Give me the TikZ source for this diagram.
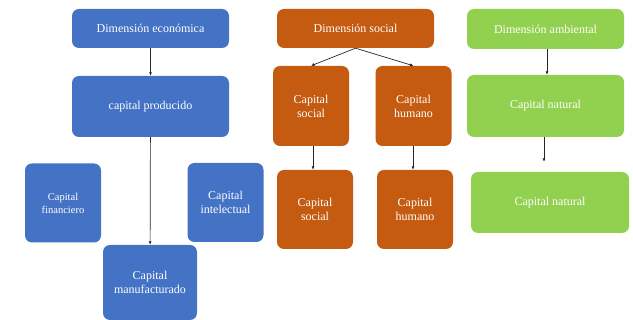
\documentclass[tikz,border=0pt]{standalone}
\usepackage{fontspec}
\setmainfont{Liberation Serif}
\usetikzlibrary{arrows.meta}
\definecolor{azul}{HTML}{4472C4}
\definecolor{naranja}{HTML}{C55A11}
\definecolor{verde}{HTML}{92D050}

\begin{document}
\begin{tikzpicture}[x=1pt,y=-1pt,
      caja/.style={rounded corners=7pt,text=white,align=center,inner sep=0pt,
        font=\fontsize{12}{14}\selectfont},
      eco/.style={caja,fill=azul},
      soc/.style={caja,fill=naranja},
      amb/.style={caja,fill=verde},
      ancha/.style={minimum width=157pt,minimum height=#1},
      chica/.style={minimum width=76pt,minimum height=79pt},
      flecha/.style={draw=black!85,line width=0.7pt,-{Latex[length=3.5pt,width=3pt]}}]
      \useasboundingbox (0,0) rectangle (633,320);
      % dimension economica
      \node[eco,ancha=39pt] (deco) at (150.5,28.5) {Dimensión económica};
      \node[eco,ancha=61pt] (cprod) at (150.5,106.5) {capital producido};
      \node[eco,chica,font=\fontsize{10.5}{13}\selectfont] (cfin) at (63,203) {Capital\\financiero};
      \node[eco,chica] (cint) at (225.5,202.5) {Capital\\intelectual};
      \node[eco,minimum width=94pt,minimum height=75pt] (cman) at (150,282.5) {Capital\\manufacturado};
      \draw[flecha] (deco) -- (cprod);
      \draw[flecha] (cprod) -- (cman);
      % dimension social
      \node[soc,ancha=39pt] (dsoc) at (355.5,28.5) {Dimensión social};
      \node[soc,chica,minimum height=80pt] (csoc1) at (311,106) {Capital\\social};
      \node[soc,chica,minimum height=80pt] (chum1) at (413.5,106) {Capital\\humano};
      \node[soc,chica] (csoc2) at (315,209.5) {Capital\\social};
      \node[soc,chica] (chum2) at (415,209.5) {Capital\\humano};
      \draw[flecha] (dsoc.south) -- (csoc1.north);
      \draw[flecha] (dsoc.south) -- (chum1.north);
      \draw[flecha] (csoc1.south -| 313,0) -- (csoc2.north -| 313,0);
      \draw[flecha] (chum1.south -| 413,0) -- (chum2.north -| 413,0);
      % dimension ambiental
      \node[amb,ancha=40pt] (damb) at (545.5,29) {Dimensión ambiental};
      \node[amb,ancha=62pt] (cnat1) at (545.5,106) {Capital natural};
      \node[amb,minimum width=158pt,minimum height=61pt] (cnat2) at (550,202.5) {Capital natural};
      \draw[flecha] (damb.south -| 547,0) -- (cnat1.north -| 547,0);
      \draw[flecha,shorten >=10pt] (cnat1.south -| 544,0) -- (cnat2.north -| 544,0);
    \end{tikzpicture}
\end{document}
